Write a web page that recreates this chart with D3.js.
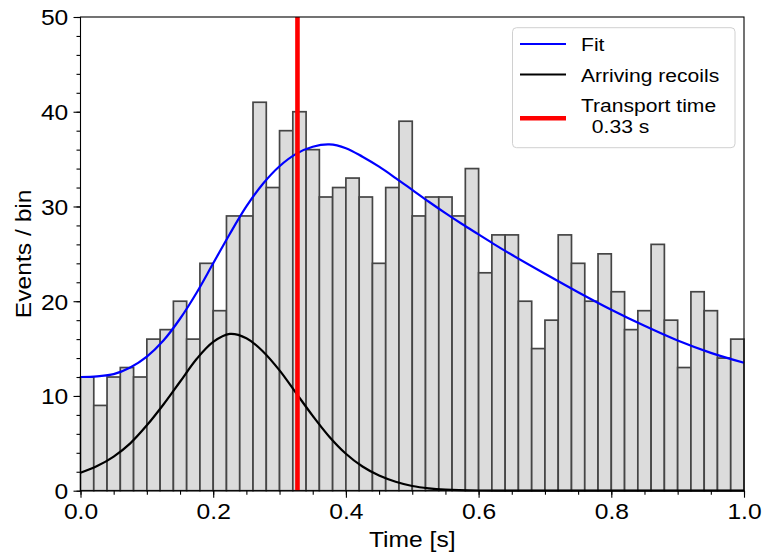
<!DOCTYPE html>
<html>
<head>
<meta charset="utf-8">
<script src="https://cdn.jsdelivr.net/npm/d3@7"></script>
<style>
  html, body { margin: 0; padding: 0; background: #fff; }
  svg { display: block; font-family: "Liberation Sans", Arial, Helvetica, sans-serif; }
</style>
</head>
<body>
<svg id="chart" width="763" height="556"></svg>
<script>
// ---- data ----
const binWidth = 0.02;
const counts = [12, 9, 12, 13, 12, 16, 17, 20, 16, 24,
                19, 29, 29, 41, 32, 38, 40, 36, 31, 32,
                33, 31, 24, 32, 39, 29, 31, 31, 29, 34,
                23, 27, 27, 20, 15, 18, 27, 24, 20, 25,
                21, 17, 19, 26, 18, 13, 21, 19, 14, 16];

const fitX = [0, 0.025, 0.05, 0.075, 0.1, 0.125, 0.15, 0.175, 0.2, 0.225, 0.25, 0.275, 0.3, 0.325,
              0.35, 0.375, 0.4, 0.425, 0.45, 0.475, 0.5, 0.525, 0.55, 0.575, 0.6, 0.625, 0.65,
              0.7, 0.75, 0.8, 0.85, 0.9, 0.95, 1.0];
const fitY = [12.0, 12.07, 12.3, 13.0, 14.15, 15.85, 18.15, 20.9, 24.0, 27.1, 30.0, 32.4, 34.25, 35.55,
              36.3, 36.55, 36.15, 35.25, 34.2, 33.0, 31.75, 30.5, 29.3, 28.15, 27.05, 25.95, 24.9,
              22.9, 20.95, 19.1, 17.4, 15.85, 14.55, 13.5];

const recoilX = [0, 0.025, 0.05, 0.075, 0.1, 0.125, 0.15, 0.175, 0.2, 0.225, 0.25, 0.275, 0.3, 0.325,
                 0.35, 0.375, 0.4, 0.425, 0.45, 0.475, 0.5, 0.525, 0.55, 0.6, 0.65, 0.7, 1.0];
const recoilY = [1.9, 2.6, 3.6, 5.0, 6.9, 9.1, 11.5, 13.9, 15.7, 16.55, 16.1, 14.7, 12.7, 10.3,
                 7.9, 5.7, 3.9, 2.55, 1.6, 0.95, 0.5, 0.25, 0.12, 0.02, 0, 0, 0];

const transportTime = 0.327;
const transportLabel = "0.33 s";

const xMajorTicks = [0, 0.2, 0.4, 0.6, 0.8, 1.0];
const xMinorTicks = d3.range(0, 1.0001, 0.05);
const yMajorTicks = [0, 10, 20, 30, 40, 50];
const yMinorTicks = d3.range(0, 50.001, 2);

const legendLabels = ["Fit", "Arriving recoils", "Transport time"];

// ---- layout ----
const svg = d3.select("#chart");
const W = 763, H = 556;
const margin = { left: 80.5, right: W - 744, top: 17, bottom: H - 490.7 };
const x = d3.scaleLinear().domain([0, 1.0]).range([margin.left, W - margin.right]);
const y = d3.scaleLinear().domain([0, 50]).range([H - margin.bottom, margin.top]);

const axisFont = 22, axisStretch = 1.12;
const legendFont = 18.5, legendStretch = 1.14;

// bars
svg.append("g").selectAll("rect").data(counts).join("rect")
  .attr("x", (d, i) => x(i * binWidth))
  .attr("width", (d, i) => x((i + 1) * binWidth) - x(i * binWidth))
  .attr("y", d => y(d))
  .attr("height", d => y(0) - y(d))
  .attr("fill", "#dcdcdc")
  .attr("stroke", "#454545")
  .attr("stroke-width", 1.7);

// curves
const line = d3.line().x(d => x(d[0])).y(d => y(d[1])).curve(d3.curveCatmullRom.alpha(0.5));
svg.append("path").datum(fitX.map((v, i) => [v, fitY[i]]))
  .attr("d", line).attr("fill", "none").attr("stroke", "#0000ff").attr("stroke-width", 2.2);
svg.append("path").datum(recoilX.map((v, i) => [v, recoilY[i]]))
  .attr("d", line).attr("fill", "none").attr("stroke", "#000000").attr("stroke-width", 2.2);

// transport time line
svg.append("line")
  .attr("x1", x(transportTime)).attr("x2", x(transportTime))
  .attr("y1", y(50)).attr("y2", y(0))
  .attr("stroke", "#ff0000").attr("stroke-width", 4.6);

// axes
const xAxis = svg.append("g").attr("transform", `translate(0,${y(0)})`)
  .call(d3.axisBottom(x).tickValues(xMajorTicks).tickFormat(d3.format(".1f")).tickSize(7).tickPadding(5.6));
const xMinor = svg.append("g").attr("transform", `translate(0,${y(0)})`)
  .call(d3.axisBottom(x).tickValues(xMinorTicks).tickFormat("").tickSize(4));
const yAxis = svg.append("g").attr("transform", `translate(${x(0)},0)`)
  .call(d3.axisLeft(y).tickValues(yMajorTicks).tickFormat(d3.format("d")).tickSize(7).tickPadding(5.2));
const yMinor = svg.append("g").attr("transform", `translate(${x(0)},0)`)
  .call(d3.axisLeft(y).tickValues(yMinorTicks).tickFormat("").tickSize(4));
[xAxis, xMinor, yAxis, yMinor].forEach(g => {
  g.select(".domain").remove();
  g.selectAll("line").attr("stroke", "#000").attr("stroke-width", 1.1);
  g.selectAll("text").attr("font-size", axisFont).attr("fill", "#000")
    .attr("font-family", "'Liberation Sans', Arial, sans-serif");
});
xAxis.selectAll("text").attr("transform", `scale(${axisStretch},1)`);
yAxis.selectAll("text")
  .attr("x", -12.2 / axisStretch)
  .attr("dy", "0.36em")
  .attr("transform", `scale(${axisStretch},1)`);

// frame
svg.append("rect")
  .attr("x", x(0)).attr("y", y(50))
  .attr("width", x(1) - x(0)).attr("height", y(0) - y(50))
  .attr("fill", "none").attr("stroke", "#000").attr("stroke-width", 1.1);

// axis labels
svg.append("text")
  .attr("transform", `translate(${(x(0) + x(1)) / 2},546.5) scale(${axisStretch},1)`)
  .attr("text-anchor", "middle").attr("font-size", axisFont).text("Time [s]");
svg.append("text")
  .attr("transform", `translate(31,${(y(0) + y(50)) / 2}) rotate(-90) scale(${axisStretch},1)`)
  .attr("text-anchor", "middle").attr("font-size", axisFont).text("Events / bin");

// legend
const lg = svg.append("g");
lg.append("rect").attr("x", 512.5).attr("y", 27.7).attr("width", 222.5).attr("height", 120)
  .attr("rx", 4).attr("fill", "#fff").attr("fill-opacity", 0.8)
  .attr("stroke", "#d0d0d0").attr("stroke-width", 1);
const legendItems = [
  { color: "#0000ff", width: 2.2, ly: 44, lines: [legendLabels[0]], ty: [51] },
  { color: "#000000", width: 2.2, ly: 74.5, lines: [legendLabels[1]], ty: [81.7] },
  { color: "#ff0000", width: 4.6, ly: 118.3, lines: [legendLabels[2], "\u00a0" + transportLabel], ty: [111.7, 133.3] }
];
legendItems.forEach(it => {
  lg.append("line").attr("x1", 520).attr("x2", 566).attr("y1", it.ly).attr("y2", it.ly)
    .attr("stroke", it.color).attr("stroke-width", it.width);
  it.lines.forEach((t, k) => {
    lg.append("text")
      .attr("transform", `translate(${k === 0 ? 581 : 586},${it.ty[k]}) scale(${legendStretch},1)`)
      .attr("font-size", legendFont).attr("fill", "#000").text(t);
  });
});
</script>
</body>
</html>
